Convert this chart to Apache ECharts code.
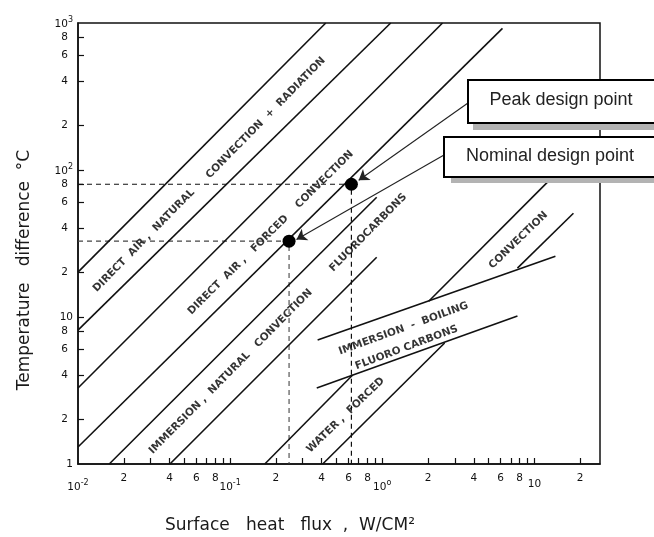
<!DOCTYPE html>
<html><head><meta charset="utf-8">
<script src="https://cdn.jsdelivr.net/npm/echarts@6/dist/echarts.min.js"></script>
<style>html,body{margin:0;padding:0;background:#fff}#c{width:654px;height:537px}</style>
</head><body><div id="c"></div>
<script>
// ---- axis ranges and ticks (surface heat flux W/cm², temperature difference °C) ----
const xRange = [0.01, 27];
const yRange = [1, 1000];
const xTickValues = [0.02,0.03,0.04,0.05,0.06,0.07,0.08,0.09,0.1,0.2,0.3,0.4,0.5,0.6,0.7,0.8,0.9,1,2,3,4,5,6,7,8,9,10,20];
const xMinorLabelValues = [0.02,0.04,0.06,0.08,0.2,0.4,0.6,0.8,2,4,6,8,20];
const xDecadeLabelValues = [0.01,0.1,1,10];
const yTickValues = [2,4,6,8,10,20,40,60,80,100,200,400,600,800];
const yMinorLabelValues = [2,4,6,8,20,40,60,80,200,400,600,800];
const yDecadeLabelValues = [1,10,100,1000];

// ---- regime boundary lines: [heat flux, temperature difference] end points ----
const directAirNaturalUpper = [[0.01,20.2],[0.425,1000]];
const directAirNaturalLower = [[0.01,8.15],[1.136,1000]];
const directAirForcedUpper  = [[0.01,3.29],[2.49,1000]];
const directAirForcedLower  = [[0.01,1.305],[6.17,920]];
const immersionNaturalUpper = [[0.01605,1],[0.919,65.3]];
const immersionNaturalLower = [[0.0402,1],[0.919,25.5]];
const waterForcedUpper      = [[0.169,1],[0.639,4.03]];
const waterForcedLower      = [[0.406,1],[2.57,6.65]];
const boilingUpper          = [[0.376,6.97],[13.75,25.9]];
const boilingLower          = [[0.371,3.29],[7.74,10.14]];
const convectionUpper       = [[2.02,12.8],[12.95,88]];
const convectionLower       = [[7.74,21.5],[18.06,50.8]];

// ---- design points and arrows ----
const peakPoint    = [0.627, 80];
const nominalPoint = [0.244, 32.8];
const peakArrow    = [[3.64,284.6],[0.70,85.2]];
const nominalArrow = [[2.53,126],[0.273,33.7]];

// ---- regime labels and their anchors (data coordinates) ----
const regimeLabels = ['DIRECT  AIR ,  NATURAL','CONVECTION  +  RADIATION','DIRECT  AIR ,   FORCED    CONVECTION','IMMERSION ,  NATURAL   CONVECTION','FLUOROCARBONS','WATER ,  FORCED','CONVECTION','IMMERSION  -  BOILING','FLUORO CARBONS'];
const regimeAnchors = [[0.0271,33.1],[0.1716,226.7],[0.185,37.5],[0.101,4.25],[0.808,37.5],[0.575,2.15],[7.86,33.3],[1.38,8.34],[1.446,6.19]];

// ---- presentation ----
const labelAngles = [45.5,45.5,44.7,45.3,45.3,44,44,20,20.5];
const L = Math.log10;
const P = d => [L(d[0]), L(d[1])];
const INK = '#111';

function leadDigit(v){
  const p = Math.floor(v + 1e-9);
  return String(Math.round(Math.pow(10, v - p)));
}
function xDecade(v){
  const e = Math.round(v);
  if (e === -2) return '{b|10}{s|-2}';
  if (e === -1) return '{b|10}{s|-1}';
  if (e === 0) return '{b|10}{s|o}';
  return '{b|10}';
}
function yDecade(v){
  const e = Math.round(v);
  if (e === 0) return '{b|1}';
  if (e === 1) return '{b|10}';
  return '{b|10}{s|' + e + '}';
}
const tickFont = {fontFamily:'DejaVu Sans', fontSize:10.5, color:INK};
const rich = {
  b:{fontFamily:'DejaVu Sans', fontSize:10.5, color:INK, verticalAlign:'bottom'},
  s:{fontFamily:'DejaVu Sans', fontSize:8, color:INK, verticalAlign:'bottom', padding:[0,0,6,0]}
};

const lines = [directAirNaturalUpper,directAirNaturalLower,directAirForcedUpper,directAirForcedLower,
  immersionNaturalUpper,immersionNaturalLower,waterForcedUpper,waterForcedLower,
  boilingUpper,boilingLower,convectionUpper,convectionLower];

const series = lines.map(d => ({
  type:'line', data:d.map(P), symbol:'none', silent:true, z:3,
  lineStyle:{color:INK, width:1.6}
}));

series.push({
  type:'line', symbol:'none', silent:true, z:2,
  data:[[xRange[0], peakPoint[1]], peakPoint, [peakPoint[0], yRange[0]]].map(P),
  lineStyle:{color:INK, width:1.2, type:[5,4]}
});
series.push({
  type:'line', symbol:'none', silent:true, z:2,
  data:[[xRange[0], nominalPoint[1]], nominalPoint, [nominalPoint[0], yRange[0]]].map(P),
  lineStyle:{color:'#444', width:1.1, type:[5,4]}
});

series.push({
  type:'scatter', symbol:'circle', symbolSize:13, silent:true, z:6,
  itemStyle:{color:'#000', opacity:1},
  data:[peakPoint, nominalPoint].map(P),
  markLine:{
    silent:true, symbol:['none','arrow'], symbolSize:10, animation:false,
    label:{show:false},
    lineStyle:{color:'#222', width:1.1, type:'solid', opacity:1},
    itemStyle:{color:'#111'},
    emphasis:{disabled:true},
    data:[
      [{coord:P(peakArrow[0])},{coord:P(peakArrow[1])}],
      [{coord:P(nominalArrow[0])},{coord:P(nominalArrow[1])}]
    ]
  }
});

series.push({
  type:'scatter', symbolSize:1, silent:true, z:7,
  itemStyle:{color:'rgba(0,0,0,0)'},
  data: regimeAnchors.map((a,i) => ({value:P(a), name:regimeLabels[i], label:{rotate:labelAngles[i]}})),
  label:{show:true, position:'inside', formatter:p => p.name,
    fontFamily:'DejaVu Sans', fontWeight:'bold', fontSize:10.5, color:'#000'}
});

const xBase = {type:'value', min:L(xRange[0]), max:L(xRange[1]), position:'bottom', splitLine:{show:false}};
const yBase = {type:'value', min:L(yRange[0]), max:L(yRange[1]), position:'left', splitLine:{show:false}};

const option = {
  animation:false,
  backgroundColor:'#fff',
  grid:{left:78, right:54, top:23, bottom:73, show:true, borderColor:INK, borderWidth:1.5},
  xAxis:[
    Object.assign({}, xBase, {
      axisLine:{show:true, onZero:false, lineStyle:{color:INK, width:1.5}},
      axisTick:{show:true, inside:true, length:6, customValues:xTickValues.map(L), lineStyle:{color:INK, width:1.2}},
      axisLabel:Object.assign({customValues:xMinorLabelValues.map(L), formatter:leadDigit, margin:9}, tickFont)
    }),
    Object.assign({}, xBase, {
      axisLine:{show:false}, axisTick:{show:false},
      axisLabel:{customValues:xDecadeLabelValues.map(L), formatter:xDecade, margin:15, rich:rich}
    })
  ],
  yAxis:[
    Object.assign({}, yBase, {
      axisLine:{show:true, onZero:false, lineStyle:{color:INK, width:1.5}},
      axisTick:{show:true, inside:true, length:6, customValues:yTickValues.map(L), lineStyle:{color:INK, width:1.2}},
      axisLabel:Object.assign({customValues:yMinorLabelValues.map(L), formatter:leadDigit, margin:10}, tickFont)
    }),
    Object.assign({}, yBase, {
      axisLine:{show:false}, axisTick:{show:false},
      axisLabel:{customValues:yDecadeLabelValues.map(L), formatter:yDecade, margin:5, rich:rich}
    })
  ],
  series:series,
  graphic:[
    {type:'rect', z:100, silent:true, shape:{x:473,y:123,width:190,height:7}, style:{fill:'#b3b3b3'}},
    {type:'rect', z:101, silent:true, shape:{x:468,y:80,width:200,height:43}, style:{fill:'#fff', stroke:'#000', lineWidth:2}},
    {type:'text', z:102, silent:true, x:561, y:100, style:{text:'Peak design point', font:'18px "Liberation Sans"', fill:'#222', align:'center', verticalAlign:'middle'}},
    {type:'rect', z:100, silent:true, shape:{x:451,y:177,width:210,height:6}, style:{fill:'#b3b3b3'}},
    {type:'rect', z:101, silent:true, shape:{x:444,y:137,width:220,height:40}, style:{fill:'#fff', stroke:'#000', lineWidth:2}},
    {type:'text', z:102, silent:true, x:550, y:156, style:{text:'Nominal design point', font:'18px "Liberation Sans"', fill:'#222', align:'center', verticalAlign:'middle'}},
    {type:'text', z:102, silent:true, x:25, y:270, rotation:Math.PI/2, style:{text:'Temperature   difference  °C', font:'17px "DejaVu Sans"', fill:'#1a1a1a', align:'center', verticalAlign:'middle'}},
    {type:'text', z:102, silent:true, x:165, y:526, style:{text:'Surface   heat   flux  ,  W/CM²', font:'17px "DejaVu Sans"', fill:'#1a1a1a', align:'left', verticalAlign:'middle'}}
  ]
};
const chart = echarts.init(document.getElementById('c'), null, {renderer:'canvas'});
chart.setOption(option);
</script>
</body></html>
